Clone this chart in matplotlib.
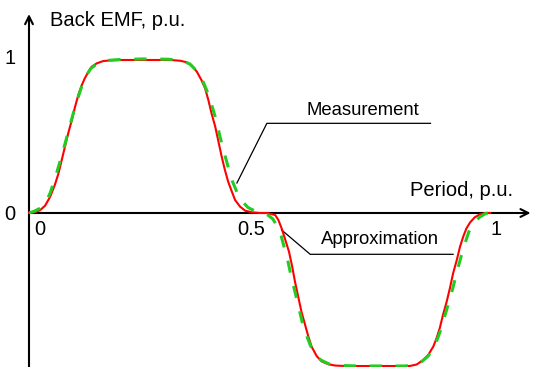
import numpy as np
import matplotlib.pyplot as plt

plt.rcParams['font.family'] = ['Liberation Sans', 'DejaVu Sans']

# measured back EMF over one electrical period (p.u.)
meas_t = [0.000, 0.013, 0.024, 0.035, 0.046, 0.056, 0.064, 0.071, 0.078, 0.085,
          0.093, 0.100, 0.107, 0.114, 0.121, 0.129, 0.136, 0.147, 0.161, 0.179, 0.208,
          0.306, 0.328, 0.342, 0.353, 0.364, 0.374, 0.382, 0.389, 0.396, 0.404,
          0.411, 0.418, 0.425, 0.432, 0.440, 0.447, 0.458, 0.469, 0.483, 0.501,
          0.518, 0.523, 0.534, 0.541, 0.548, 0.555, 0.564, 0.571, 0.577, 0.584,
          0.591, 0.599, 0.606, 0.613, 0.624, 0.635, 0.649, 0.664, 0.685,
          0.805, 0.826, 0.841, 0.855, 0.866, 0.877, 0.884, 0.891, 0.898, 0.906,
          0.913, 0.920, 0.928, 0.935, 0.942, 0.949, 0.957, 0.967, 0.978, 0.989, 1.000]
meas_e = [0.000, 0.005, 0.018, 0.048, 0.107, 0.183, 0.259, 0.346, 0.433, 0.520,
          0.608, 0.695, 0.771, 0.832, 0.880, 0.924, 0.956, 0.978, 0.993, 0.998, 1.000,
          1.000, 0.995, 0.985, 0.963, 0.924, 0.869, 0.815, 0.739, 0.651, 0.564,
          0.466, 0.368, 0.281, 0.205, 0.140, 0.085, 0.041, 0.015, 0.005, 0.000,
          0.000, -0.005, -0.013, -0.046, -0.100, -0.166, -0.253, -0.351, -0.449, -0.547,
          -0.645, -0.732, -0.808, -0.873, -0.935, -0.970, -0.988, -0.997, -1.000,
          -1.000, -1.000, -0.990, -0.961, -0.928, -0.873, -0.819, -0.753, -0.667, -0.580,
          -0.492, -0.394, -0.307, -0.220, -0.154, -0.100, -0.061, -0.028, -0.009, 0.000, 0.000]

# approximated back EMF
appr_t = [0.000, 0.011, 0.024, 0.035, 0.046, 0.056, 0.067, 0.078, 0.089, 0.100,
          0.111, 0.121, 0.134, 0.150, 0.169, 0.197, 0.250, 0.300,
          0.328, 0.349, 0.364, 0.377, 0.388, 0.397, 0.406, 0.414, 0.423, 0.432,
          0.440, 0.451, 0.462, 0.475, 0.490, 0.505,
          0.518, 0.529, 0.538, 0.547, 0.554, 0.562, 0.569, 0.577, 0.585, 0.592,
          0.601, 0.610, 0.620, 0.633, 0.651, 0.675, 0.718,
          0.816, 0.837, 0.852, 0.866, 0.876, 0.885, 0.894, 0.902, 0.911, 0.920,
          0.928, 0.937, 0.946, 0.954, 0.965, 0.978, 0.991, 1.000]
appr_e = [0.000, 0.011, 0.031, 0.062, 0.131, 0.222, 0.333, 0.451, 0.575, 0.693,
          0.797, 0.882, 0.944, 0.980, 0.997, 1.003, 1.007, 1.005,
          1.000, 0.974, 0.928, 0.863, 0.784, 0.699, 0.608, 0.503, 0.399, 0.301,
          0.216, 0.137, 0.078, 0.036, 0.013, 0.000,
          -0.013, -0.039, -0.085, -0.150, -0.229, -0.320, -0.418, -0.516, -0.614, -0.706,
          -0.791, -0.863, -0.922, -0.961, -0.987, -0.997, -1.000,
          -1.000, -0.990, -0.971, -0.935, -0.889, -0.830, -0.758, -0.673, -0.582, -0.484,
          -0.386, -0.288, -0.196, -0.124, -0.065, -0.026, -0.003, 0.003]

fig = plt.figure(figsize=(5.33, 3.67), dpi=100)
ax = fig.add_axes([0, 0, 1, 1])
ax.set_xlim(-0.0629, 1.0933)
ax.set_ylim(-1.0065, 1.392)
ax.axis('off')

# axes with arrow heads
ax.annotate('', xy=(1.088, 0), xytext=(0, 0),
            arrowprops=dict(arrowstyle='->', lw=1.5, color='black',
                            mutation_scale=14, shrinkA=0, shrinkB=0))
ax.annotate('', xy=(0, 1.30), xytext=(0, -1.01),
            arrowprops=dict(arrowstyle='->', lw=1.5, color='black',
                            mutation_scale=14, shrinkA=0, shrinkB=0))

ax.plot(meas_t, meas_e, color='#ff0000', lw=1.5, zorder=3)
ax.plot(appr_t, appr_e, color='#22cc22', lw=2.2, dashes=(4, 4.5), zorder=4)

fs = 14.5
ax.text(0.0456, 1.255, 'Back EMF, p.u.', fontsize=fs, va='center', ha='left')
ax.text(0.826, 0.150, 'Period, p.u.', fontsize=fs, va='center', ha='left')
ax.text(-0.041, 1.01, '1', fontsize=fs, va='center', ha='center')
ax.text(-0.041, -0.007, '0', fontsize=fs, va='center', ha='center')
ax.text(0.024, -0.105, '0', fontsize=fs, va='center', ha='center')
ax.text(0.481, -0.105, '0.5', fontsize=fs, va='center', ha='center')
ax.text(1.014, -0.105, '1', fontsize=fs, va='center', ha='center')

# leader lines to the curve labels
fs2 = 13.3
ax.plot([0.451, 0.516, 0.871], [0.196, 0.586, 0.586], color='black', lw=0.9)
ax.text(0.603, 0.670, 'Measurement', fontsize=fs2, va='center', ha='left')
ax.plot([0.548, 0.610, 0.920], [-0.111, -0.270, -0.270], color='black', lw=0.9)
ax.text(0.633, -0.176, 'Approximation', fontsize=fs2, va='center', ha='left')

fig.savefig('out.png', dpi=100)
